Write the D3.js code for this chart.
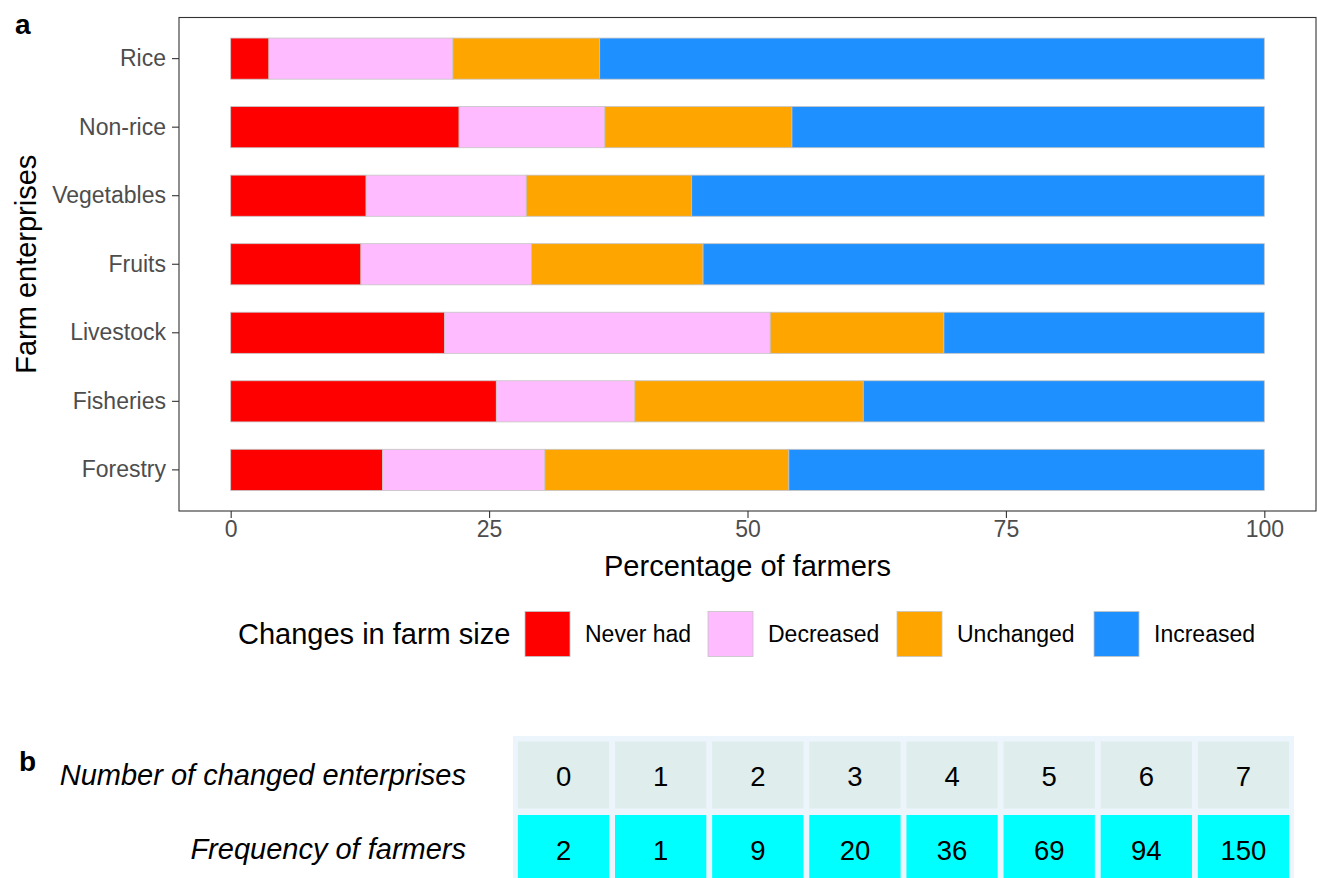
<!DOCTYPE html>
<html>
<head>
<meta charset="utf-8">
<script src="https://cdn.jsdelivr.net/npm/d3@7"></script>
<style>
  html, body { margin: 0; padding: 0; background: #fff; }
  svg { display: block; font-family: "Liberation Sans", Arial, sans-serif; }
</style>
</head>
<body>
<svg id="chart" width="1317" height="878"></svg>
<script>
// Farm enterprises, top to bottom
const enterprises = ["Rice", "Non-rice", "Vegetables", "Fruits", "Livestock", "Fisheries", "Forestry"];
// Change categories, stacked left to right
const changes = ["Never had", "Decreased", "Unchanged", "Increased"];
const changeColors = ["#FF0000", "#FFBBFF", "#FFA500", "#1E90FF"];

// Percentage of farmers per enterprise for each change category
const neverHad  = [3.7, 22.1, 13.1, 12.6, 20.7, 25.7, 14.7];
const decreased = [17.8, 14.1, 15.5, 16.5, 31.5, 13.4, 15.7];
const unchanged = [14.2, 18.1, 16.0, 16.6, 16.8, 22.1, 23.6];
const increased = [64.3, 45.7, 55.4, 54.3, 31.0, 38.8, 46.0];

const xTicks = [0, 25, 50, 75, 100];

// Panel b table
const changedCounts = ["0", "1", "2", "3", "4", "5", "6", "7"];
const farmerFreq = [2, 1, 9, 20, 36, 69, 94, 150];

const FONT = "'Liberation Sans', Arial, sans-serif";
const svg = d3.select("#chart");

// ---- Panel a: stacked horizontal bars ----
const panel = { left: 179, right: 1316, top: 17.5, bottom: 511 };

const x = d3.scaleLinear().domain([-5, 105]).range([panel.left, panel.right]);
const y = d3.scaleBand().domain(enterprises)
  .range([panel.top, panel.bottom]).paddingInner(0.4).paddingOuter(0.3);

const rows = enterprises.map((e, i) => ({
  enterprise: e,
  "Never had": neverHad[i],
  "Decreased": decreased[i],
  "Unchanged": unchanged[i],
  "Increased": increased[i]
}));
const stacked = d3.stack().keys(changes)(rows);
const color = d3.scaleOrdinal().domain(changes).range(changeColors);

svg.append("g")
  .selectAll("g")
  .data(stacked)
  .join("g")
  .attr("fill", d => color(d.key))
  .selectAll("rect")
  .data(d => d)
  .join("rect")
  .attr("x", d => x(d[0]))
  .attr("width", d => x(d[1]) - x(d[0]))
  .attr("y", d => y(d.data.enterprise))
  .attr("height", y.bandwidth())
  .attr("stroke", "#c4c4c4")
  .attr("stroke-width", 0.8);

// Panel border
svg.append("rect")
  .attr("x", panel.left).attr("y", panel.top)
  .attr("width", panel.right - panel.left).attr("height", panel.bottom - panel.top)
  .attr("fill", "none").attr("stroke", "#333333").attr("stroke-width", 1.1);

// X axis
const xAxis = svg.append("g")
  .attr("transform", `translate(0,${panel.bottom})`)
  .call(d3.axisBottom(x).tickValues(xTicks).tickSize(7).tickPadding(3).tickFormat(d3.format("d")));
xAxis.select(".domain").remove();
xAxis.selectAll("line").attr("stroke", "#333333").attr("stroke-width", 1.1);
xAxis.selectAll("text").attr("fill", "#4D4D4D").style("font-size", "23px")
  .style("font-family", FONT);

// Y axis
const yAxis = svg.append("g")
  .attr("transform", `translate(${panel.left},0)`)
  .call(d3.axisLeft(y).tickSize(7).tickPadding(6));
yAxis.select(".domain").remove();
yAxis.selectAll("line").attr("stroke", "#333333").attr("stroke-width", 1.1);
yAxis.selectAll("text").attr("fill", "#4D4D4D").style("font-size", "23px")
  .style("font-family", FONT);

// Axis titles
svg.append("text")
  .attr("x", (panel.left + panel.right) / 2).attr("y", 576)
  .attr("text-anchor", "middle").attr("fill", "#000")
  .style("font-size", "29px")
  .text("Percentage of farmers");

svg.append("text")
  .attr("transform", `translate(36,${(panel.top + panel.bottom) / 2}) rotate(-90)`)
  .attr("text-anchor", "middle").attr("fill", "#000")
  .style("font-size", "29px")
  .text("Farm enterprises");

// Panel tag
svg.append("text")
  .attr("x", 15).attr("y", 34)
  .attr("fill", "#000").style("font-size", "28px").style("font-weight", "bold")
  .text("a");

// ---- Legend ----
const legend = svg.append("g");
legend.append("text")
  .attr("x", 238).attr("y", 644)
  .attr("fill", "#000").style("font-size", "29px")
  .text("Changes in farm size");

const legendKeyX = [525, 708, 897, 1094];
changes.forEach((c, i) => {
  legend.append("rect")
    .attr("x", legendKeyX[i]).attr("y", 611.5)
    .attr("width", 45).attr("height", 45)
    .attr("fill", color(c)).attr("stroke", "#c4c4c4").attr("stroke-width", 0.8);
  legend.append("text")
    .attr("x", legendKeyX[i] + 60).attr("y", 642)
    .attr("fill", "#000").style("font-size", "23px")
    .text(c);
});

// ---- Panel b: frequency table ----
svg.append("text")
  .attr("x", 19).attr("y", 771)
  .attr("fill", "#000").style("font-size", "28px").style("font-weight", "bold")
  .text("b");

svg.append("text")
  .attr("x", 466).attr("y", 785)
  .attr("text-anchor", "end").attr("fill", "#000")
  .style("font-size", "29px").style("font-style", "italic")
  .text("Number of changed enterprises");

svg.append("text")
  .attr("x", 466).attr("y", 859)
  .attr("text-anchor", "end").attr("fill", "#000")
  .style("font-size", "29px").style("font-style", "italic")
  .text("Frequency of farmers");

const tableLeft = 513, tableRight = 1294;
svg.append("rect")
  .attr("x", tableLeft).attr("y", 736)
  .attr("width", tableRight - tableLeft).attr("height", 150)
  .attr("fill", "#EDF5FC");

const cx = d3.scaleBand().domain(changedCounts)
  .range([tableLeft + 1, tableRight - 1]).paddingInner(0.06).paddingOuter(0.04);

const rowTop = [741.5, 815];
const rowH = 67;

svg.append("g").selectAll("rect")
  .data(changedCounts).join("rect")
  .attr("x", d => cx(d)).attr("y", rowTop[0])
  .attr("width", cx.bandwidth()).attr("height", rowH)
  .attr("fill", "#DFEDED");

svg.append("g").selectAll("text")
  .data(changedCounts).join("text")
  .attr("x", d => cx(d) + cx.bandwidth() / 2).attr("y", 786)
  .attr("text-anchor", "middle").attr("fill", "#000").style("font-size", "27.5px")
  .text(d => d);

svg.append("g").selectAll("rect")
  .data(farmerFreq).join("rect")
  .attr("x", (d, i) => cx(changedCounts[i])).attr("y", rowTop[1])
  .attr("width", cx.bandwidth()).attr("height", rowH)
  .attr("fill", "#00FFFF");

svg.append("g").selectAll("text")
  .data(farmerFreq).join("text")
  .attr("x", (d, i) => cx(changedCounts[i]) + cx.bandwidth() / 2).attr("y", 860)
  .attr("text-anchor", "middle").attr("fill", "#000").style("font-size", "27.5px")
  .text(d => d);
</script>
</body>
</html>
